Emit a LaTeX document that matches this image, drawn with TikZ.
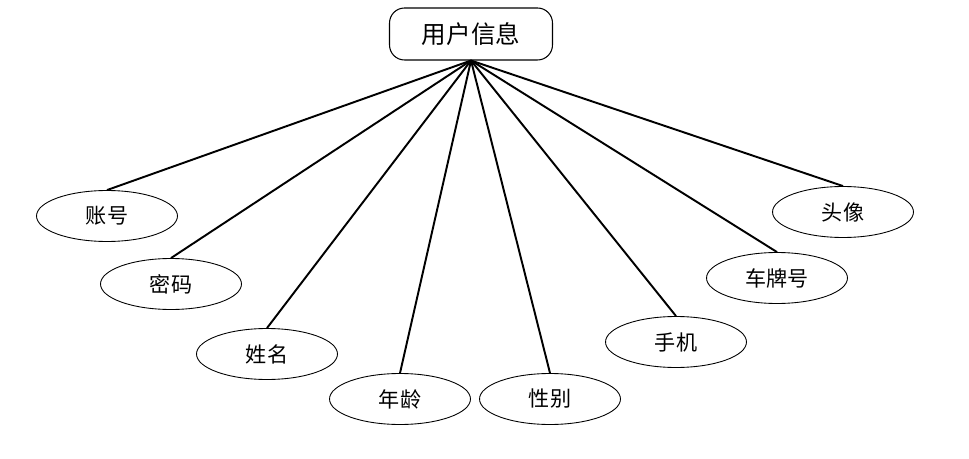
\documentclass[tikz,border=0pt]{standalone}
\usepackage{fontspec}
\setmainfont{Noto Sans CJK SC}
\usetikzlibrary{shapes.geometric}
\tikzset{
  entity/.style = {draw, rounded corners=0.3cm, minimum width=3.26cm, minimum height=1.04cm, font=\fontsize{14}{16}\selectfont, fill=white, line width=0.6pt},
  attr/.style = {ellipse, draw, minimum width=2.82cm, minimum height=1.02cm, font=\fontsize{12}{14}\selectfont, fill=white, line width=0.5pt},
  link/.style = {line width=1.1pt}
}

\begin{document}
\begin{tikzpicture}[x=0.02cm, y=-0.02cm]

  \useasboundingbox (0,0) rectangle (969,459);

  % entity
  \node[entity] (user) at (471,34) {用户信息};

  % attributes
  \node[attr] (account) at (107,216) {账号};
  \node[attr] (pwd)     at (171,284) {密码};
  \node[attr] (name)    at (267,354) {姓名};
  \node[attr] (age)     at (400,399) {年龄};
  \node[attr] (sex)     at (550,399) {性别};
  \node[attr] (phone)   at (676,342) {手机};
  \node[attr] (plate)   at (777,278) {车牌号};
  \node[attr] (avatar)  at (843,212) {头像};

  % links
  \foreach \a in {account, pwd, name, age, sex, phone, plate, avatar} {
    \draw[link] (user.south) -- (\a.north);
  }

\end{tikzpicture}
\end{document}
